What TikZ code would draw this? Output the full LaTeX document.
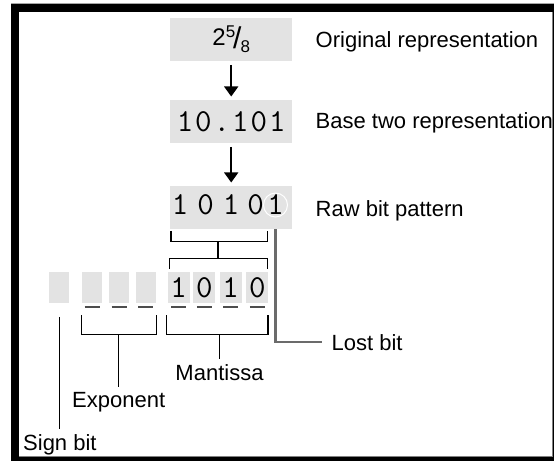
\documentclass[tikz,border=0pt]{standalone}
\usepackage{fontspec}
\setmainfont{Liberation Sans}
\usetikzlibrary{arrows.meta,calc}
\definecolor{boxgray}{HTML}{E3E3E3}
\definecolor{lostgray}{HTML}{6B6B6B}
\definecolor{dashgray}{HTML}{4D4D4D}
\newcommand{\bitgap}{\kern2pt}

\begin{document}
\begin{tikzpicture}[x=1pt,y=1pt,
    stage/.style={fill=boxgray,minimum width=122pt,minimum height=43pt,inner sep=0},
    bit/.style={fill=boxgray,minimum width=20.5pt,minimum height=31pt,inner sep=0,font=\ttfamily\bitfontsize},
    wide bit/.style={bit,minimum width=22pt},
    digit/.style={inner sep=0,anchor=base,font=\ttfamily\bitfontsize},
    lbl/.style={inner sep=0,font=\textfontsize},
    flow/.style={-{Triangle[width=14pt,length=10pt]},line width=1.5pt,shorten <=3.5pt,shorten >=3.5pt},
    bracket/.style={line width=1.3pt},
    bitdash/.style={line width=2.5pt,draw=dashgray},
    lostline/.style={line width=2.7pt,draw=lostgray,shorten >=10pt},
    lostmark/.style={circle,draw=white,line width=1pt,minimum size=24pt,inner sep=0}]
    \providecommand{\textfontsize}{\fontsize{22pt}{26pt}\selectfont}
    \providecommand{\bitfontsize}{\fontsize{32pt}{32pt}\selectfont}
    \providecommand{\smallfontsize}{\fontsize{17pt}{17pt}\selectfont}
    \useasboundingbox (0,0) rectangle (554,461);
    % frame
    \fill[black] (11,0) rectangle (554,457.5);
    \fill[white] (19,4.5) rectangle (552,449);
    \draw[gray,line width=1pt] (19,4.5) -- (552.5,4.5) -- (552.5,449);
    \draw[gray!70,line width=0.8pt] (11,458) -- (554,458);
    % the three stages
    \node[stage] (orig) at (231.2,421.3) {{\fontsize{24pt}{24pt}\selectfont 2}\raisebox{8pt}{\smallfontsize 5}\kern-2pt\raisebox{-3pt}{\fontsize{30pt}{30pt}\selectfont /}\kern-1pt\raisebox{-7pt}{\smallfontsize 8}};
    \node[stage,font=\ttfamily\bitfontsize] (base) at (231.2,339.3) {1\bitgap 0\bitgap .\bitgap 1\bitgap 0\bitgap 1};
    \node[stage] (raw) at (231.2,253.3) {};
    \node[digit] (r1) at (180,246) {1};
    \node[digit] (r2) at (205.5,246) {0};
    \node[digit] (r3) at (231,246) {1};
    \node[digit] (r4) at (255.5,246) {0};
    \node[digit] (r5) at (275.5,246) {1};
    \node[lostmark] (lost) at (r5.center) {};
    \draw[flow] (orig) -- (base);
    \draw[flow] (base) -- (raw);
    \node[lbl,anchor=base west] (origlbl) at (315.5,413) {Original representation};
    \node[lbl,anchor=base west] (baselbl) at (315.5,332.5) {Base two representation};
    \node[lbl,anchor=base west] (rawlbl) at (315.5,244.3) {Raw bit pattern};
    % stored bits
    \node[bit] (sign) at (59.2,173.5) {};
    \node[bit] (e1) at (92,173.5) {};
    \node[bit] (e2) at (119.2,173.5) {};
    \node[bit] (e3) at (145.8,173.5) {};
    \node[wide bit] (m1) at (178.5,173.5) {1};
    \node[wide bit] (m2) at (204.3,173.5) {0};
    \node[wide bit] (m3) at (230.7,173.5) {1};
    \node[wide bit] (m4) at (257.3,173.5) {0};
    \draw[bitdash] ([yshift=-3.7pt]e1.south) +(-7.5,0) -- +(7.5,0)
        ([yshift=-3.7pt]e2.south) +(-7.5,0) -- +(7.5,0)
        ([yshift=-3.7pt]e3.south) +(-7.5,0) -- +(7.5,0);
    \draw[bitdash] ([yshift=-3.7pt]m1.south) +(-7.5,0) -- +(7.5,0)
        ([yshift=-3.7pt]m2.south) +(-7.5,0) -- +(7.5,0)
        ([yshift=-3.7pt]m3.south) +(-7.5,0) -- +(7.5,0)
        ([yshift=-3.7pt]m4.south) +(-7.5,0) -- +(7.5,0);
    \draw[bracket] ($(raw.south west)+(1,-1.5)$) -- ++(0,-10.3) -| ($(m4.east |- raw.south)+(-1,-1.5)$);
    \draw[bracket] ($(m1.north west)+(2.5,2.7)$) -- ++(0,10.3) -| ($(m4.north east)+(-1,2.7)$);
    \draw[bracket] ($(m1.north west)!0.5!(m4.north east)+(0,13)$) -- ++(0,18);
    % labels underneath
    \node[lbl,anchor=base west] (lostlbl) at (331.5,111) {Lost bit};
    \node[lbl,anchor=base] (mantlbl) at (219.5,81) {Mantissa};
    \node[lbl,anchor=base] (explbl) at (118.7,53.5) {Exponent};
    \node[lbl,anchor=base west] (signlbl) at (23,11) {Sign bit};
    \draw[bracket] ($(e1.south west)+(0,-12)$) -- ++(0,-19) coordinate (expfoot) -| ($(e3.south east)+(0,-12)$);
    \draw[bracket] ($(m1.south west)+(-1,-12)$) -- ++(0,-19) coordinate (mantfoot) -| ($(m4.south east)+(-0.6,-12)$);
    \draw[bracket,shorten >=5pt] (explbl.north |- expfoot) -- (explbl.north);
    \draw[bracket,shorten >=5pt] (mantlbl.north |- mantfoot) -- (mantlbl.north);
    \draw[bracket,shorten >=5pt] ($(sign.south)+(0,-13.7)$) -- (sign.south |- signlbl.north);
    \draw[lostline] (lost |- raw.south) |- (lostlbl.west);
\end{tikzpicture}
\end{document}
